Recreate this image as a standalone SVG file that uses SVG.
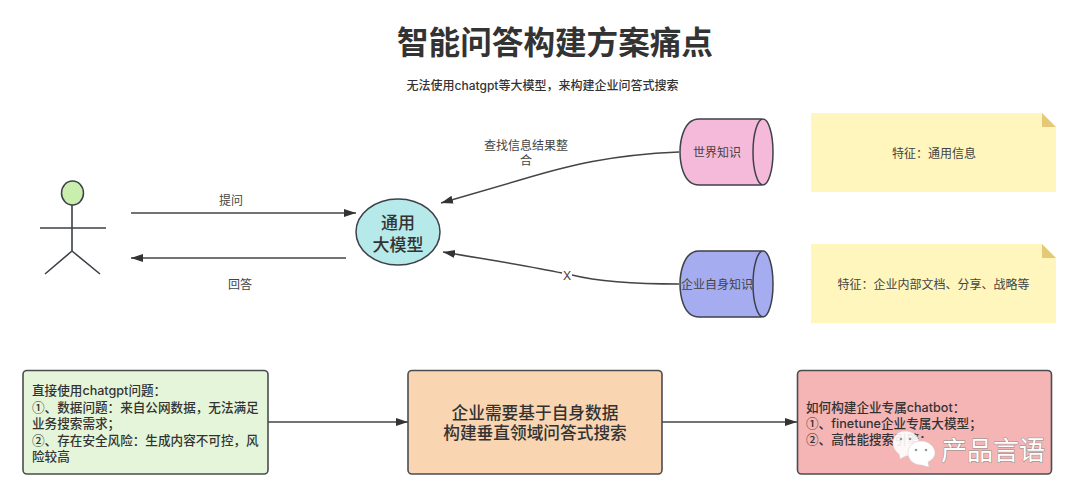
<svg xmlns="http://www.w3.org/2000/svg" width="1080" height="497" viewBox="0 0 1080 497">
<style>
text{font-family:Inter,"Noto Sans CJK SC",sans-serif;fill:#333}
.cjk{font-family:"Noto Sans CJK SC",sans-serif}
.l{font-size:12px;fill:#444}
.c{text-anchor:middle}
.s{stroke:#3d4148;stroke-width:1.6}
.n{fill:#fff6bd}
.f{fill:#e5c978}
.box{stroke:#4a4d52;stroke-width:1.6}
.conn{fill:none;stroke:#444;stroke-width:1.5}
.b{font-size:12.6px;fill:#333;font-weight:500}
</style>
<defs>
<marker id="a" markerUnits="userSpaceOnUse" markerWidth="14" markerHeight="10" refX="12" refY="5" orient="auto"><path d="M0,1 L12,5 L0,9 Z" fill="#333"/></marker>
</defs>
<rect width="1080" height="497" fill="#fff"/>
<g id="title">
<text x="555" y="54" class="c" font-size="31.600" font-weight="700">智能问答构建方案痛点</text>
<text x="542.500" y="90" class="c" font-size="12" font-weight="500">无法使用chatgpt等大模型，来构建企业问答式搜索</text>
</g>
<g id="connectors">
<path class="conn" d="M131,213 H356" marker-end="url(#a)"/>
<path class="conn" d="M346,258 H131" marker-end="url(#a)"/>
<path class="conn" d="M679,152 C610,155 570,165 520,180 L441,203" marker-end="url(#a)"/>
<path class="conn" d="M679,284 C640,284 600,282 572,275 M562,273 C530,266 490,260 443,252" marker-end="url(#a)"/>
<path class="conn" d="M268,422 H408" marker-end="url(#a)"/>
<path class="conn" d="M662,422 H797" marker-end="url(#a)"/>
<text x="231" y="205" class="l c">提问</text>
<text x="240" y="289" class="l c">回答</text>
<text x="526" y="150" class="l c">查找信息结果整</text>
<text x="526" y="165" class="l c">合</text>
<text x="567" y="280" class="l c">X</text>
</g>
<g id="actor">
<ellipse cx="72.500" cy="193" rx="11" ry="12" fill="#c9eeae" stroke="#3d4148" stroke-width="1.500"/>
<path class="s" fill="none" d="M72,205 V251 M40,228 H106 M72,251 L45,274 M72,251 L100,274"/>
</g>
<g id="model">
<ellipse cx="398" cy="232" rx="42" ry="33" fill="#b5e9ea" stroke="#3d4148" stroke-width="1.500"/>
<text x="398" y="229" class="c" font-size="17" font-weight="500">通用</text>
<text x="398" y="251" class="c" font-size="17" font-weight="500">大模型</text>
</g>
<g id="world">
<path d="M761,119 H699 C682,119 680,145 680,152 C680,160 682,185 699,185 H761 Z" fill="#f5b9da" stroke="#3d4148" stroke-width="1.500"/>
<ellipse cx="763" cy="152" rx="10" ry="33" fill="#f5b9da" stroke="#3d4148" stroke-width="1.500"/>
<text x="717" y="157" class="l c">世界知识</text>
</g>
<g id="enterprise">
<path d="M761,251 H699 C682,251 680,277 680,284 C680,292 682,317 699,317 H761 Z" fill="#a5adf0" stroke="#3d4148" stroke-width="1.500"/>
<ellipse cx="763" cy="284" rx="10" ry="33" fill="#a5adf0" stroke="#3d4148" stroke-width="1.500"/>
<text x="717" y="289" class="l c">企业自身知识</text>
</g>
<g id="note1">
<path class="n" d="M811,113 H1042 L1056,127 V192 H811 Z"/>
<path class="f" d="M1042,113 L1056,127 H1042 Z"/>
<text x="934" y="158" class="l c">特征：通用信息</text>
</g>
<g id="note2">
<path class="n" d="M811,244 H1042 L1056,258 V323 H811 Z"/>
<path class="f" d="M1042,244 L1056,258 H1042 Z"/>
<text x="933.500" y="289" class="l c">特征：企业内部文档、分享、战略等</text>
</g>
<g id="problem">
<rect x="23" y="370.500" width="245" height="103.500" rx="4" fill="#e5f5d9" class="box"/>
<text class="b" x="32" y="395">直接使用chatgpt问题：</text>
<text class="b cjk" x="32" y="412">①、数据问题：来自公网数据，无法满足</text>
<text class="b" x="32" y="428">业务搜索需求；</text>
<text class="b cjk" x="32" y="445">②、存在安全风险：生成内容不可控，风</text>
<text class="b" x="32" y="461">险较高</text>
</g>
<g id="need">
<rect x="408" y="370.500" width="254" height="103.500" rx="4" fill="#f9d5b2" class="box"/>
<text x="535" y="419" class="c" font-size="16.700" font-weight="500">企业需要基于自身数据</text>
<text x="535" y="439" class="c" font-size="16.700" font-weight="500">构建垂直领域问答式搜索</text>
</g>
<g id="solution">
<rect x="797.500" y="370.500" width="254" height="103.500" rx="4" fill="#f5b5b5" class="box"/>
<text class="b" x="806" y="412">如何构建企业专属chatbot：</text>
<text class="b" x="806" y="428"><tspan class="cjk">①</tspan>、finetune企业专属大模型；</text>
<text class="b cjk" x="806" y="444">②、高性能搜索引擎；</text>
</g>
<g id="watermark">
<path d="M905,431 C898,431 893,436 893,443 C893,448 896,452 899,454 L900,459 L906,456 C914,456 919,450 919,443 C919,436 913,431 905,431 Z" fill="#fff" fill-opacity=".9" stroke="#ccc" stroke-width=".5"/>
<path d="M921,441 C913,441 908,447 908,453 C908,460 914,465 921,465 L929,467 L928,462 C932,460 935,457 935,453 C935,447 929,441 921,441 Z" fill="#fff" stroke="#ccc" stroke-width=".5"/>
<circle cx="916" cy="450" r="1.300" fill="#999"/><circle cx="926" cy="450" r="1.300" fill="#999"/>
<circle cx="901" cy="439" r="1.300" fill="#999"/><circle cx="910" cy="439" r="1.300" fill="#999"/>
<text x="941" y="460" font-size="26" style="fill:#fff;paint-order:stroke;stroke:#8a8a8a;stroke-width:1px">产品言语</text>
</g>
</svg>
